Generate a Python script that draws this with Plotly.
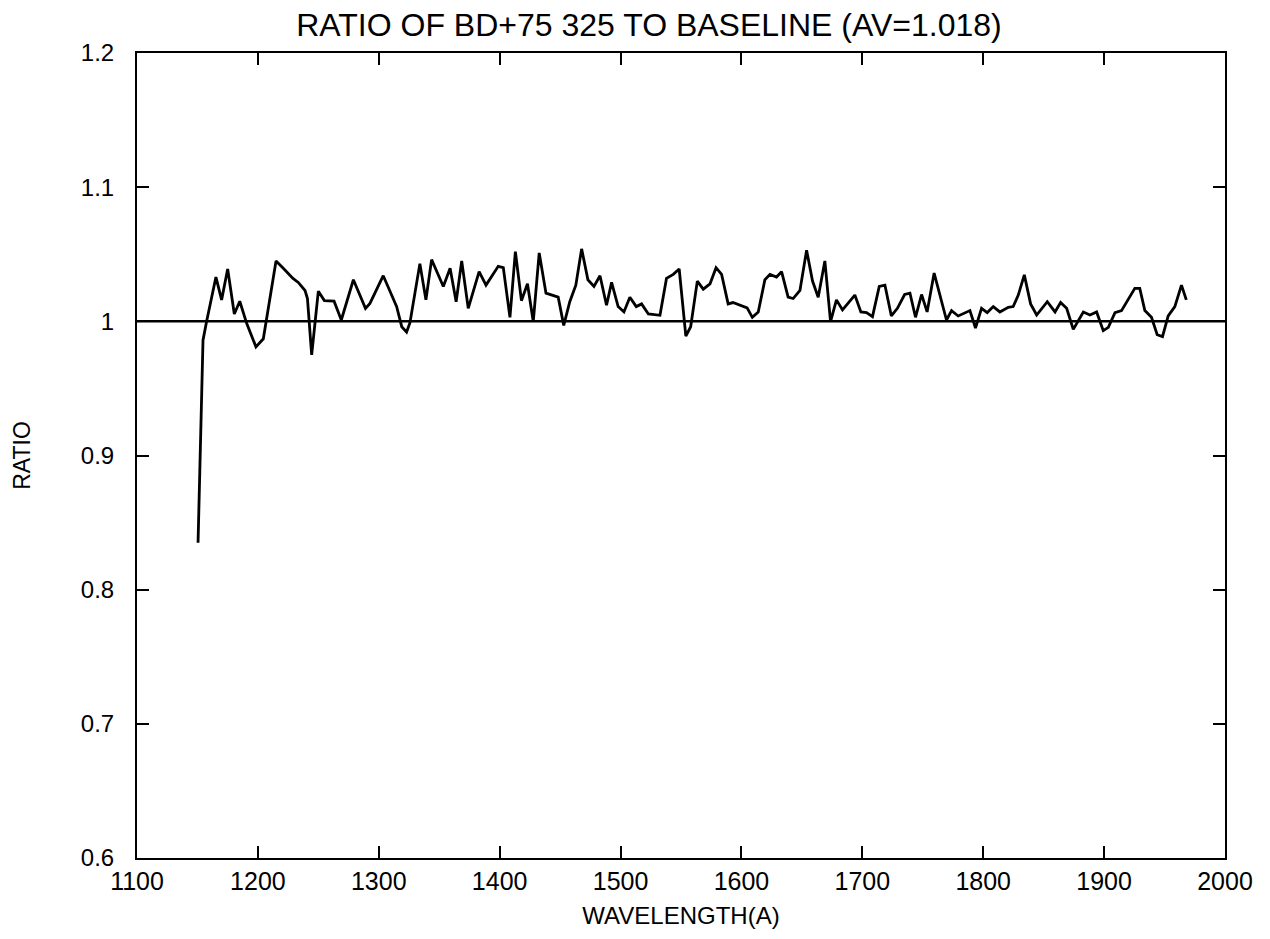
import plotly.graph_objects as go

wavelength = [1150.5, 1154.6, 1157.6, 1165.3, 1170, 1175, 1180.5, 1185, 1190.7, 1198.4, 1204.5, 1207,
              1215, 1221, 1229, 1233.4, 1239, 1241, 1244.5, 1250, 1255, 1263, 1269, 1279, 1289, 1292.7,
              1303.7, 1309, 1314.8, 1319, 1323, 1325.8, 1334, 1339, 1343.7, 1353.4, 1359, 1364, 1368.6,
              1374, 1383, 1388.7, 1398.8, 1403, 1408.5, 1413, 1418, 1423, 1427.8, 1432.7, 1438.3, 1448.4,
              1453, 1458, 1463, 1467.8, 1473, 1478, 1483, 1488.4, 1492.6, 1498, 1502.8, 1507.7, 1513,
              1517.4, 1523, 1532.6, 1538, 1543.6, 1548.5, 1554, 1558, 1563.5, 1568.4, 1574, 1579, 1583.6,
              1589, 1593, 1598.7, 1604.7, 1609, 1613.9, 1619.4, 1623.6, 1629, 1633.2, 1638.6, 1642.8,
              1648.4, 1653.9, 1658.8, 1663.5, 1669, 1673.7, 1678.6, 1683.6, 1693.8, 1698.8, 1703.5,
              1708.4, 1714, 1718.7, 1724, 1729, 1735, 1739.4, 1744, 1749, 1753.6, 1759.4, 1769.6, 1773.8,
              1779.3, 1789, 1793.6, 1798.6, 1803.3, 1808.3, 1813.8, 1820.7, 1824.8, 1829, 1834, 1839.2,
              1844.2, 1853, 1859.4, 1864, 1869, 1874.5, 1882.8, 1888.3, 1893.8, 1899.3, 1903.5, 1909,
              1914.4, 1920, 1925.4, 1929.5, 1933.7, 1939.2, 1943.9, 1948.3, 1953, 1958.5, 1964, 1968]
ratio = [0.835, 0.986, 1.000, 1.033, 1.016, 1.039, 1.0055, 1.015, 0.9985, 0.981, 0.987, 1.001,
         1.045, 1.0395, 1.032, 1.029, 1.023, 1.017, 0.975, 1.0225, 1.0155, 1.015, 1.001, 1.031, 1.0097, 1.0134,
         1.034, 1.023, 1.011, 0.996, 0.992, 0.999, 1.043, 1.016, 1.046, 1.026, 1.0395, 1.0146, 1.045,
         1.0097, 1.037, 1.027, 1.041, 1.040, 1.003, 1.052, 1.0154, 1.028, 0.9997, 1.051, 1.021, 1.018,
         0.997, 1.0146, 1.027, 1.054, 1.031, 1.026, 1.034, 1.012, 1.029, 1.011, 1.007, 1.018, 1.011,
         1.013, 1.0055, 1.0045, 1.032, 1.035, 1.039, 0.989, 0.996, 1.030, 1.024, 1.028, 1.040, 1.035,
         1.013, 1.014, 1.012, 1.010, 1.003, 1.007, 1.031, 1.035, 1.033, 1.037, 1.018, 1.017,
         1.023, 1.053, 1.030, 1.018, 1.045, 0.9997, 1.016, 1.0085, 1.0196, 1.007, 1.0065,
         1.0035, 1.026, 1.027, 1.004, 1.0097, 1.020, 1.021, 1.003, 1.020, 1.007, 1.036, 1.001, 1.008,
         1.004, 1.008, 0.995, 1.0097, 1.0065, 1.011, 1.007, 1.0105, 1.011, 1.0196, 1.0346, 1.013,
         1.0047, 1.0146, 1.007, 1.014, 1.0097, 0.994, 1.007, 1.0047, 1.007, 0.993, 0.9955, 1.0065,
         1.008, 1.017, 1.0246, 1.0246, 1.008, 1.003, 0.990, 0.9886, 1.004, 1.011, 1.027, 1.016]

baseline_x = [1100, 2000]
baseline_y = [1.0, 1.0]

x_ticks = [1100, 1200, 1300, 1400, 1500, 1600, 1700, 1800, 1900, 2000]
y_ticks = [0.6, 0.7, 0.8, 0.9, 1.0, 1.1, 1.2]
y_tick_text = ["0.6", "0.7", "0.8", "0.9", "1", "1.1", "1.2"]

FONT = "Liberation Sans, Arial, sans-serif"

fig = go.Figure()
fig.add_trace(go.Scatter(x=baseline_x, y=baseline_y, mode="lines",
                         line=dict(color="black", width=2.5), hoverinfo="skip", showlegend=False))
fig.add_trace(go.Scatter(x=wavelength, y=ratio, mode="lines",
                         line=dict(color="black", width=2.8), showlegend=False))

fig.update_layout(
    width=1270, height=939,
    paper_bgcolor="white", plot_bgcolor="white",
    margin=dict(l=137, r=45, t=53, b=81),
    font=dict(family=FONT, color="black", size=24),
    title=dict(text="RATIO OF BD+75 325 TO BASELINE (AV=1.018)", x=0.511, xanchor="center",
               y=0.986, yanchor="top", font=dict(family=FONT, size=32, color="black")),
)
fig.update_xaxes(range=[1100, 2000], tickvals=x_ticks, ticks="inside", ticklen=12, tickwidth=1.5,
                 tickcolor="black", showline=True, linecolor="black", linewidth=2, mirror="ticks",
                 showgrid=False, zeroline=False, tickfont=dict(size=25, family=FONT),
                 title=dict(text="WAVELENGTH(A)", font=dict(size=24, family=FONT), standoff=13))
fig.update_yaxes(range=[0.6, 1.2], tickvals=y_ticks, ticktext=y_tick_text, ticks="inside", ticklen=12,
                 tickwidth=1.5, tickcolor="black", showline=True, linecolor="black", linewidth=2,
                 mirror="ticks", showgrid=False, zeroline=False, tickfont=dict(size=24, family=FONT),
                 ticklabelstandoff=16,
                 title=dict(text="RATIO", font=dict(size=23, family=FONT), standoff=44))

fig.write_html("out.html")
